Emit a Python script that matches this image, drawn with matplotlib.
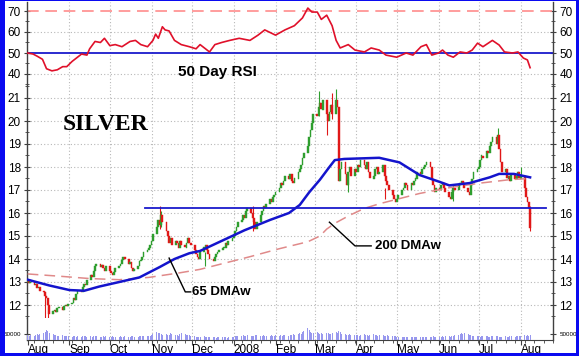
import matplotlib
matplotlib.use('Agg')
import matplotlib.pyplot as plt
import matplotlib.dates as mdates
import matplotlib.ticker as mticker
import pandas as pd
import numpy as np
from matplotlib.patches import Rectangle

# ---------------- data ----------------
close_aug07 = [13.05, 12.95, 13.0, 12.85, 12.9, 12.75, 12.8, 12.6, 12.55, 12.4, 12.3, 12.0,
               11.6, 11.75, 11.8, 11.7, 11.85, 11.9, 11.8, 11.95, 12.0, 11.95, 12.05]
close_sep07 = [12.1, 12.3, 12.2, 12.5, 12.6, 12.55, 12.8, 12.9, 12.85, 13.1, 13.3, 13.2,
               13.5, 13.7, 13.8, 13.65, 13.75, 13.6, 13.5, 13.7]
close_oct07 = [13.5, 13.4, 13.3, 13.45, 13.6, 13.7, 13.8, 13.95, 14.1, 14.0, 13.8, 13.85,
               13.6, 13.5, 13.55, 13.7, 13.9, 13.95, 14.1, 14.3, 14.4, 14.5, 14.6]
close_nov07 = [14.8, 15.1, 15.4, 15.7, 15.5, 15.9, 15.6, 15.2, 15.0, 14.7, 14.9, 14.6,
               14.8, 14.7, 14.5, 14.8, 14.6, 14.5, 14.7, 14.9, 14.7, 14.6]
close_dec07 = [14.4, 14.2, 14.1, 14.0, 14.3, 14.5, 14.6, 14.4, 14.2, 14.0, 13.9, 14.1,
               14.2, 14.3, 14.4, 14.5, 14.5, 14.7, 14.6, 14.8, 14.9]
close_jan08 = [15.0, 15.2, 15.4, 15.6, 15.7, 15.9, 15.8, 16.1, 16.2, 16.0, 15.8, 15.6,
               15.3, 15.6, 15.9, 16.1, 16.3, 16.2, 16.4, 16.6, 16.5, 16.7, 16.8]
close_feb08 = [16.9, 17.1, 17.3, 17.2, 17.4, 17.6, 17.5, 17.7, 17.4, 17.3, 17.5, 17.8,
               17.9, 18.1, 18.4, 18.6, 18.9, 19.3, 19.6, 19.9, 20.3]
close_mar08 = [20.2, 20.6, 20.8, 20.5, 20.9, 20.3, 20.0, 20.4, 20.7, 20.3, 20.9, 20.6,
               17.4, 17.9, 18.2, 17.7, 17.2, 17.8, 18.0, 17.6, 17.9]
close_apr08 = [17.8, 18.1, 18.0, 18.3, 18.1, 17.9, 18.2, 17.8, 17.5, 17.6, 17.9, 18.0,
               17.7, 17.8, 18.1, 17.6, 17.4, 17.2, 17.0, 16.8, 16.6, 16.5]
close_may08 = [16.6, 16.8, 17.0, 17.1, 17.3, 17.2, 17.0, 17.3, 17.2, 17.4, 17.5, 17.8,
               17.7, 17.9, 18.0, 18.1, 18.2, 18.0, 17.5, 17.2, 16.9, 17.1]
close_jun08 = [17.0, 17.2, 17.3, 17.1, 16.9, 16.7, 16.6, 16.9, 17.1, 17.0, 17.2, 17.3,
               17.4, 17.3, 17.1, 16.9, 16.8, 17.2, 17.5, 17.8, 17.9]
close_jul08 = [18.0, 18.3, 18.5, 18.4, 18.7, 18.6, 18.9, 19.1, 19.3, 19.0, 19.4, 18.8,
               18.2, 17.8, 17.9, 17.5, 17.6, 17.4, 17.7, 17.5, 17.6, 17.8, 17.5]
close_aug08 = [17.6, 17.1, 16.7, 16.5, 16.2, 15.35]

# a few visible intraday extremes (wicks)
wick_dates = ['2007-08-14', '2007-08-16', '2007-11-07', '2007-11-08', '2007-12-11', '2008-01-15',
              '2008-03-04', '2008-03-14', '2008-03-17', '2008-03-10', '2008-03-26', '2008-04-22',
              '2008-06-12', '2008-07-15', '2008-08-01', '2008-08-08']
wick_lows = [11.1, 11.4, 15.3, 15.4, 13.7, 15.2, 20.2, 20.1, 20.4, 19.4, 16.9, 16.6,
             16.5, 19.0, 17.5, 15.2]
wick_highs = [12.5, 11.9, 16.3, 16.1, 14.3, 16.3, 21.3, 21.2, 21.4, 20.5, 17.8, 17.1,
              17.2, 19.7, 18.0, 16.3]

# volume, thousands of contracts
vol_aug07 = [40, 35, 45, 38, 42, 50, 45, 55, 60, 70, 90, 85, 60, 50, 45, 40, 38, 35, 40, 36, 34, 30, 32]
vol_sep07 = [28, 30, 32, 25, 30, 28, 35, 30, 33, 28, 30, 26, 32, 35, 30, 28, 25, 30, 27, 29]
vol_oct07 = [25, 28, 30, 26, 24, 28, 30, 27, 25, 32, 28, 26, 30, 34, 28, 26, 30, 35, 32, 30, 36, 38, 34]
vol_nov07 = [45, 55, 70, 60, 65, 50, 45, 55, 48, 42, 60, 52, 45, 40, 38, 50, 65, 55, 48, 42, 40, 38]
vol_dec07 = [30, 25, 28, 22, 26, 30, 24, 20, 25, 28, 22, 20, 18, 24, 22, 20, 25, 20, 18, 22, 24]
vol_jan08 = [28, 30, 35, 32, 38, 40, 30, 35, 42, 38, 30, 34, 45, 40, 36, 38, 42, 34, 30, 36, 40, 35, 38]
vol_feb08 = [40, 35, 42, 38, 45, 40, 36, 42, 48, 55, 45, 50, 60, 55, 70, 85, 110, 90, 75, 65, 60]
vol_mar08 = [70, 65, 55, 60, 50, 58, 62, 55, 50, 60, 75, 65, 80, 70, 55, 50, 45, 48, 52, 45, 40]
vol_apr08 = [40, 45, 38, 42, 50, 44, 40, 38, 45, 52, 48, 42, 38, 44, 40, 36, 34, 40, 38, 35, 32, 30]
vol_may08 = [25, 22, 24, 20, 26, 22, 25, 28, 24, 22, 20, 25, 24, 22, 26, 28, 24, 22, 25, 30, 26, 24]
vol_jun08 = [28, 24, 30, 26, 32, 35, 28, 30, 34, 40, 45, 50, 60, 55, 65, 50, 45, 40, 35, 30, 32]
vol_jul08 = [30, 28, 32, 35, 30, 26, 28, 32, 35, 38, 30, 28, 26, 24, 30, 28, 25, 32, 30, 28, 34, 36, 30]
vol_aug08 = [35, 40, 38, 42, 36, 45]

ma65_dates = ['2007-08-01', '2007-08-17', '2007-09-01', '2007-09-12', '2007-09-23', '2007-10-08',
              '2007-10-23', '2007-11-07', '2007-11-18', '2007-11-29', '2007-12-07', '2008-01-09',
              '2008-01-28', '2008-02-11', '2008-02-19', '2008-02-26', '2008-03-05', '2008-03-12',
              '2008-03-16', '2008-03-23', '2008-04-18', '2008-05-03', '2008-05-18', '2008-06-02',
              '2008-06-09', '2008-06-24', '2008-07-09', '2008-07-16', '2008-07-27', '2008-08-08']
ma65_vals = [13.1, 12.85, 12.65, 12.62, 12.8, 13.0, 13.2, 13.65, 14.0, 14.25, 14.35, 15.25,
             15.7, 16.0, 16.35, 16.9, 17.45, 18.0, 18.3, 18.35, 18.4, 18.2, 17.65, 17.35,
             17.2, 17.3, 17.55, 17.7, 17.7, 17.55]

ma200_dates = ['2007-08-01', '2007-08-25', '2007-09-16', '2007-10-08', '2007-10-30', '2007-11-22',
               '2007-12-07', '2008-01-13', '2008-02-04', '2008-02-25', '2008-03-05', '2008-03-10',
               '2008-03-16', '2008-03-27', '2008-04-07', '2008-04-18', '2008-05-18', '2008-06-09',
               '2008-07-02', '2008-07-24', '2008-08-08']
ma200_vals = [13.35, 13.25, 13.15, 13.1, 13.2, 13.4, 13.55, 14.1, 14.45, 14.75, 15.0, 15.3,
              15.55, 15.9, 16.2, 16.4, 16.85, 17.1, 17.3, 17.45, 17.5]

rsi_dates = ['2007-08-01', '2007-08-05', '2007-08-08', '2007-08-12', '2007-08-15', '2007-08-19',
             '2007-08-23', '2007-08-27', '2007-08-30', '2007-09-03', '2007-09-07', '2007-09-10',
             '2007-09-14', '2007-09-16', '2007-09-20', '2007-09-24', '2007-09-27', '2007-10-01',
             '2007-10-05', '2007-10-10', '2007-10-16', '2007-10-20', '2007-10-24', '2007-10-29',
             '2007-11-02', '2007-11-04', '2007-11-06', '2007-11-09', '2007-11-11', '2007-11-14',
             '2007-11-18', '2007-11-23', '2007-11-29', '2007-12-04', '2007-12-07', '2007-12-14',
             '2007-12-18', '2007-12-23', '2007-12-29', '2008-01-05', '2008-01-13', '2008-01-19',
             '2008-01-24', '2008-02-01', '2008-02-08', '2008-02-15', '2008-02-21', '2008-02-25',
             '2008-02-28', '2008-03-03', '2008-03-06', '2008-03-10', '2008-03-14', '2008-03-17',
             '2008-03-20', '2008-03-26', '2008-03-31', '2008-04-07', '2008-04-12', '2008-04-18',
             '2008-04-23', '2008-05-01', '2008-05-08', '2008-05-13', '2008-05-19', '2008-05-23',
             '2008-05-27', '2008-06-01', '2008-06-04', '2008-06-08', '2008-06-12', '2008-06-17',
             '2008-06-22', '2008-06-26', '2008-06-30', '2008-07-04', '2008-07-11', '2008-07-16',
             '2008-07-20', '2008-07-26', '2008-07-30', '2008-08-03', '2008-08-06', '2008-08-08']
rsi_vals = [50, 49.5, 48.5, 47, 42.5, 41.5, 42, 43.5, 43.5, 46, 48, 49.5,
            49, 52, 55.5, 55, 57, 53.5, 54, 53, 55.5, 56, 54, 53,
            56, 59, 57, 62.5, 61, 60.5, 56, 54, 53, 52, 54, 50.5,
            54, 55, 56, 57, 56, 58.5, 61, 58.5, 61, 63, 66.7, 71.4,
            69.5, 69.5, 66, 68, 63, 56, 52.4, 54, 51.4, 50.5, 52.4, 51.4,
            49, 48, 50, 49, 53, 54, 49, 50, 51.4, 49, 48, 50.5,
            50, 51.4, 54.7, 53, 56, 53.8, 50.5, 50, 50.5, 47.6, 46.7, 43]

support_level = 16.2
rsi_mid, rsi_high = 50, 70
month_labels = ['Aug', 'Sep', 'Oct', 'Nov', 'Dec', '2008', 'Feb', 'Mar', 'Apr', 'May', 'Jun', 'Jul', 'Aug']

# ---------------- assemble ----------------
closes = np.array(close_aug07 + close_sep07 + close_oct07 + close_nov07 + close_dec07 + close_jan08 +
                  close_feb08 + close_mar08 + close_apr08 + close_may08 + close_jun08 + close_jul08 +
                  close_aug08)
vols = np.array(vol_aug07 + vol_sep07 + vol_oct07 + vol_nov07 + vol_dec07 + vol_jan08 + vol_feb08 +
                vol_mar08 + vol_apr08 + vol_may08 + vol_jun08 + vol_jul08 + vol_aug08) * 1000.0
dates = pd.bdate_range('2007-08-01', periods=len(closes))
n = min(len(vols), len(dates))
opens = np.concatenate([[closes[0] - 0.05], closes[:-1]])

plt.rcParams['font.family'] = ['Liberation Sans', 'DejaVu Sans']

W, H = 579, 356
fig = plt.figure(figsize=(W / 100, H / 100), dpi=100)
fig.patch.set_facecolor('white')

L, R = 27, 553
def box(top, bot):
    return [L / W, (H - bot) / H, (R - L) / W, (bot - top) / H]

ax_r = fig.add_axes(box(2, 86))
ax_p = fig.add_axes(box(86, 318))
ax_v = fig.add_axes(box(318, 339.5))

xmin = pd.Timestamp('2007-07-31 12:00')
xmax = pd.Timestamp('2008-08-25')

grid_kw = dict(color='#b8b8b8', linestyle=(0, (1, 2)), linewidth=0.8)
month_starts = pd.date_range('2007-08-01', '2008-08-01', freq='MS')

for ax in (ax_r, ax_p, ax_v):
    ax.set_xlim(xmin, xmax)
    ax.set_facecolor('white')
    for s in ('top', 'bottom'):
        ax.spines[s].set_visible(False)
    for s in ('left', 'right'):
        ax.spines[s].set_color('#404040')
        ax.spines[s].set_linewidth(1.0)
    ax.tick_params(axis='y', which='both', left=True, right=True, labelleft=True, labelright=True,
                   direction='inout', colors='#404040', labelcolor='black', labelsize=8.5, pad=2)
    ax.tick_params(axis='y', which='major', length=5)
    ax.tick_params(axis='y', which='minor', length=3)
    ax.tick_params(axis='x', which='both', bottom=False, labelbottom=False)
    for m in month_starts[1:]:
        ax.axvline(m, zorder=0, **grid_kw)

# RSI panel
ax_r.set_ylim(50 - 33 / 2.1, 50 + 51 / 2.1)
ax_r.set_yticks([40, 50, 60, 70])
ax_r.yaxis.set_minor_locator(mticker.MultipleLocator(5))
for v in [40, 60]:
    ax_r.axhline(v, zorder=0, **grid_kw)
ax_r.axhline(rsi_high, color='#ff8c8c', lw=1.2, dashes=(7, 4), zorder=2)
ax_r.axhline(rsi_mid, color='#1a1acc', lw=1.3, zorder=2)
ax_r.plot(pd.to_datetime(rsi_dates), rsi_vals, color='#e0102a', lw=1.2, zorder=3)
ax_r.text(pd.Timestamp('2007-12-20'), 41.0, '50 Day RSI', fontsize=11, fontweight='bold',
          ha='center', va='center')

# Price panel
ax_p.set_ylim(21 - 220 / 23, 21 + 12 / 23)
ax_p.set_yticks(range(12, 22))
ax_p.yaxis.set_minor_locator(mticker.MultipleLocator(0.5))
for v in range(12, 22):
    ax_p.axhline(v, zorder=0, **grid_kw)
up = closes >= opens
cols = np.where(up, '#2e9e2e', '#e01818')
body = closes - opens
body = np.where(np.abs(body) < 0.04, np.sign(body + 1e-9) * 0.04, body)
# wicks for the marked extremes, coloured like the day's candle
wd = pd.to_datetime(wick_dates)
wcol = [cols[dates.get_indexer([d], method='nearest')[0]] for d in wd]
ax_p.vlines(wd, wick_lows, wick_highs, colors=wcol, lw=0.8, zorder=3)
ax_p.bar(dates, body, bottom=opens, width=1.3, color=cols, edgecolor=cols, linewidth=0.3, zorder=3)
ax_p.plot(pd.to_datetime(ma200_dates), ma200_vals, color='#e08a8a', lw=1.1, dashes=(7, 4), zorder=4)
ax_p.plot(pd.to_datetime(ma65_dates), ma65_vals, color='#1414cc', lw=1.8, zorder=5)
ax_p.plot([pd.Timestamp('2007-10-27'), pd.Timestamp('2008-08-20')], [support_level, support_level],
          color='#1a1acc', lw=1.3, zorder=5)
ax_p.text(pd.Timestamp('2007-09-28'), 19.85, 'SILVER', family=['Liberation Serif', 'DejaVu Serif'],
          fontsize=17, fontweight='bold', ha='center', va='center')
# annotation pointers
ax_p.plot([pd.Timestamp('2007-11-14'), pd.Timestamp('2007-11-26'), pd.Timestamp('2007-11-30')],
          [14.04, 12.57, 12.57], color='black', lw=1.0, zorder=6)
ax_p.text(pd.Timestamp('2007-12-01'), 12.57, '65 DMAw', fontsize=9.5, fontweight='bold',
          ha='left', va='center')
ax_p.plot([pd.Timestamp('2008-03-12'), pd.Timestamp('2008-03-31'), pd.Timestamp('2008-04-12')],
          [15.6, 14.57, 14.57], color='black', lw=1.0, zorder=6)
ax_p.text(pd.Timestamp('2008-04-15'), 14.57, '200 DMAw', fontsize=9.5, fontweight='bold',
          ha='left', va='center')

# Volume panel
ax_v.set_ylim(0, 207000)
ax_v.set_yticks([50000])
ax_v.set_yticklabels(['50000'])
ax_v.tick_params(axis='y', labelsize=4.5)
ax_v.bar(dates[:n], vols[:n], width=0.75, color='#9898ee', zorder=3)
ax_v.spines['bottom'].set_visible(True)
ax_v.spines['bottom'].set_color('#404040')
ax_v.tick_params(axis='x', which='both', bottom=True, labelbottom=True, direction='out',
                 colors='#404040', labelcolor='black')
ax_v.tick_params(axis='x', which='major', length=3.5, labelsize=8.5, pad=0)
ax_v.tick_params(axis='x', which='minor', length=2.5)
ax_v.set_xticks(month_starts)
ax_v.set_xticklabels(month_labels)
for lab in ax_v.get_xticklabels():
    lab.set_horizontalalignment('left')
ax_v.xaxis.set_minor_locator(mdates.WeekdayLocator(byweekday=mdates.MO))

# blue frame (left, right, bottom bands)
blue = '#0a0af0'
for (x0, y0, w, h) in [(0, 0, 5, H), (W - 3, 0, 3, H), (0, 0, W, 3.5), (0, H - 1, W, 1)]:
    fig.patches.append(Rectangle((x0 / W, y0 / H), w / W, h / H, transform=fig.transFigure,
                                 facecolor=blue, edgecolor='none', zorder=10))

fig.savefig('out.png', dpi=100)
